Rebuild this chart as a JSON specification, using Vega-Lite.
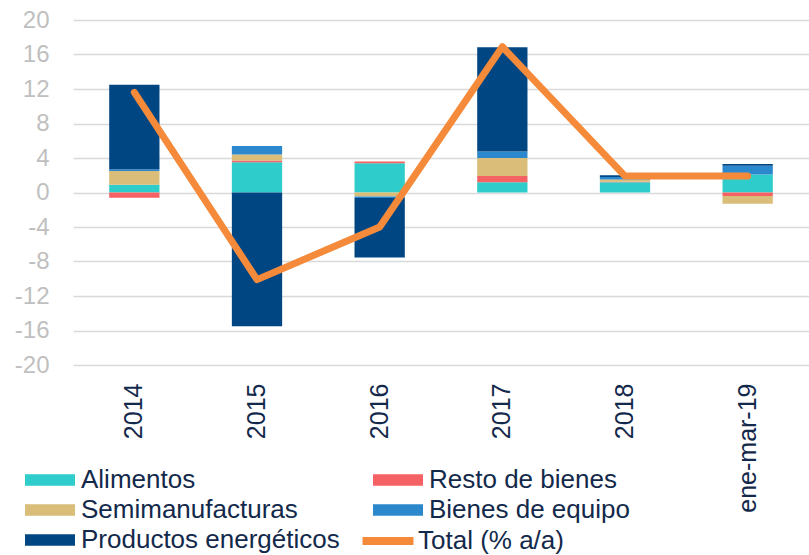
{
  "$schema": "https://vega.github.io/schema/vega-lite/v6.json",
  "width": 736,
  "height": 345,
  "autosize": {"type": "none"},
  "padding": {"left": 73, "top": 20, "right": 0, "bottom": 190},
  "background": "white",
  "config": {"view": {"stroke": null}, "font": "Liberation Sans"},
  "datasets": {
    "bars": [
      {"periodo": "2014", "serie": "Alimentos", "orden": 1, "valor": 0.9},
      {"periodo": "2014", "serie": "Resto de bienes", "orden": 2, "valor": -0.6},
      {"periodo": "2014", "serie": "Semimanufacturas", "orden": 3, "valor": 1.6},
      {"periodo": "2014", "serie": "Bienes de equipo", "orden": 4, "valor": 0.2},
      {"periodo": "2014", "serie": "Productos energéticos", "orden": 5, "valor": 9.8},
      {"periodo": "2015", "serie": "Alimentos", "orden": 1, "valor": 3.5},
      {"periodo": "2015", "serie": "Resto de bienes", "orden": 2, "valor": 0.2},
      {"periodo": "2015", "serie": "Semimanufacturas", "orden": 3, "valor": 0.7},
      {"periodo": "2015", "serie": "Bienes de equipo", "orden": 4, "valor": 1.0},
      {"periodo": "2015", "serie": "Productos energéticos", "orden": 5, "valor": -15.5},
      {"periodo": "2016", "serie": "Alimentos", "orden": 1, "valor": 3.4},
      {"periodo": "2016", "serie": "Resto de bienes", "orden": 2, "valor": 0.2},
      {"periodo": "2016", "serie": "Semimanufacturas", "orden": 3, "valor": -0.45},
      {"periodo": "2016", "serie": "Bienes de equipo", "orden": 4, "valor": -0.2},
      {"periodo": "2016", "serie": "Productos energéticos", "orden": 5, "valor": -6.9},
      {"periodo": "2017", "serie": "Alimentos", "orden": 1, "valor": 1.2},
      {"periodo": "2017", "serie": "Resto de bienes", "orden": 2, "valor": 0.7},
      {"periodo": "2017", "serie": "Semimanufacturas", "orden": 3, "valor": 2.1},
      {"periodo": "2017", "serie": "Bienes de equipo", "orden": 4, "valor": 0.75},
      {"periodo": "2017", "serie": "Productos energéticos", "orden": 5, "valor": 12.1},
      {"periodo": "2018", "serie": "Alimentos", "orden": 1, "valor": 1.2},
      {"periodo": "2018", "serie": "Resto de bienes", "orden": 2, "valor": 0.05},
      {"periodo": "2018", "serie": "Semimanufacturas", "orden": 3, "valor": 0.25},
      {"periodo": "2018", "serie": "Bienes de equipo", "orden": 4, "valor": 0.3},
      {"periodo": "2018", "serie": "Productos energéticos", "orden": 5, "valor": 0.2},
      {"periodo": "ene-mar-19", "serie": "Alimentos", "orden": 1, "valor": 2.1},
      {"periodo": "ene-mar-19", "serie": "Resto de bienes", "orden": 2, "valor": -0.4},
      {"periodo": "ene-mar-19", "serie": "Semimanufacturas", "orden": 3, "valor": -0.9},
      {"periodo": "ene-mar-19", "serie": "Bienes de equipo", "orden": 4, "valor": 1.0},
      {"periodo": "ene-mar-19", "serie": "Productos energéticos", "orden": 5, "valor": 0.2}
    ],
    "total": [
      {"periodo": "2014", "serie": "Total (% a/a)", "valor": 11.6},
      {"periodo": "2015", "serie": "Total (% a/a)", "valor": -10.1},
      {"periodo": "2016", "serie": "Total (% a/a)", "valor": -4.0},
      {"periodo": "2017", "serie": "Total (% a/a)", "valor": 16.9},
      {"periodo": "2018", "serie": "Total (% a/a)", "valor": 1.9},
      {"periodo": "ene-mar-19", "serie": "Total (% a/a)", "valor": 1.9}
    ]
  },
  "layer": [
    {
      "data": {"name": "bars"},
      "mark": {"type": "bar"},
      "encoding": {
        "x": {
          "field": "periodo", "type": "nominal",
          "scale": {"domain": ["2014", "2015", "2016", "2017", "2018", "ene-mar-19"], "paddingInner": 0.59, "paddingOuter": 0.295},
          "axis": {"title": null, "domain": false, "ticks": false, "grid": false, "labelAngle": -90, "labelFontSize": 25, "labelColor": "#13294b", "labelPadding": 18, "labelFont": "Liberation Sans"}
        },
        "y": {
          "field": "valor", "type": "quantitative", "stack": "zero",
          "scale": {"domain": [-20, 20], "nice": false},
          "axis": {"title": null, "values": [-20, -16, -12, -8, -4, 0, 4, 8, 12, 16, 20], "labelExpr": "'' + datum.value", "labelOverlap": false, "grid": true, "gridColor": "#d9d9d9", "gridWidth": 1.5, "domain": false, "ticks": false, "labelColor": "#bfbfbf", "labelFontSize": 24, "labelPadding": 24, "labelFont": "Liberation Sans"}
        },
        "color": {
          "field": "serie", "type": "nominal",
          "scale": {
            "domain": ["Alimentos", "Semimanufacturas", "Productos energéticos", "Resto de bienes", "Bienes de equipo"],
            "range": ["#2ecdcb", "#d9bd78", "#004682", "#f46263", "#2b88cc"]
          },
          "legend": {
            "orient": "none", "legendX": -38, "legendY": 445, "columns": 2, "title": null,
            "symbolType": "M-1.667,-0.38H1.667V0.38H-1.667Z", "symbolSize": 900, "symbolStrokeWidth": 0,
            "labelFontSize": 26, "labelColor": "#13294b", "labelFont": "Liberation Sans", "labelLimit": 400,
            "columnPadding": 32, "rowPadding": 2, "labelOffset": 16, "padding": 0
          }
        },
        "order": {"field": "orden", "type": "quantitative"}
      }
    },
    {
      "data": {"name": "total"},
      "mark": {"type": "line", "strokeWidth": 7, "strokeCap": "round", "strokeJoin": "round"},
      "encoding": {
        "x": {"field": "periodo", "type": "nominal"},
        "y": {
          "field": "valor", "type": "quantitative",
          "axis": {"title": null, "values": [-20, -16, -12, -8, -4, 0, 4, 8, 12, 16, 20], "labelExpr": "'' + datum.value", "labelOverlap": false, "grid": true, "gridColor": "#d9d9d9", "gridWidth": 1.5, "domain": false, "ticks": false, "labelColor": "#bfbfbf", "labelFontSize": 24, "labelPadding": 24, "labelFont": "Liberation Sans"}
        },
        "stroke": {
          "field": "serie", "type": "nominal",
          "scale": {"domain": ["Total (% a/a)"], "range": ["#f58b3a"]},
          "legend": {
            "orient": "none", "legendX": 296, "legendY": 502, "title": null,
            "symbolType": "M-1.7,0H1.7", "symbolSize": 900, "symbolStrokeWidth": 8,
            "labelFontSize": 26, "labelColor": "#13294b", "labelFont": "Liberation Sans", "labelLimit": 400,
            "labelOffset": 11, "padding": 0
          }
        }
      }
    }
  ]
}
